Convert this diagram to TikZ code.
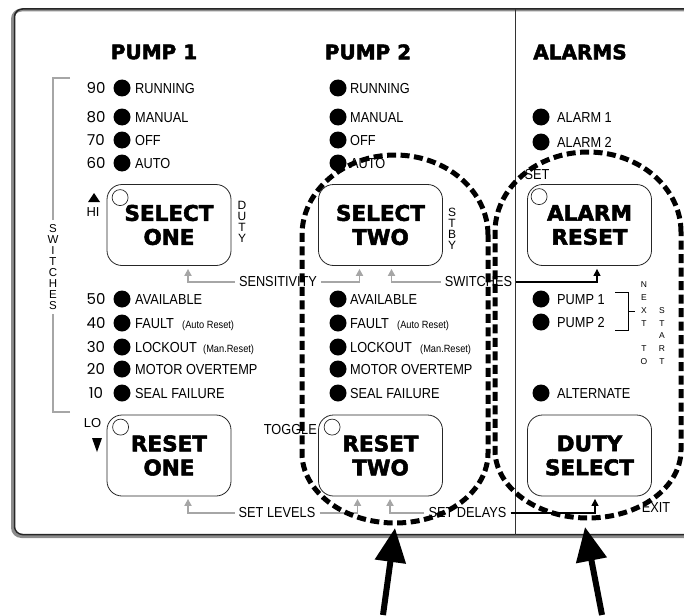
\documentclass[tikz,border=0pt]{standalone}
\usepackage{fontspec}
\setmainfont{Liberation Sans}
\newfontfamily\labf[FakeStretch=0.88]{Liberation Sans}
\newfontfamily\heavyf[FakeBold=2.5]{DejaVu Sans Bold}
\newfontfamily\numf{Poppins}
\usetikzlibrary{arrows.meta}
\begin{document}
\begin{tikzpicture}[x=1pt,y=-1pt,
  lab/.style={font=\labf\fontsize{14.5}{17}\selectfont, inner sep=0pt, anchor=base west},
  lab2/.style={font=\labf\fontsize{14.5}{17}\selectfont, inner xsep=4pt, inner ysep=0pt},
  smalllab/.style={font=\labf\fontsize{10.5}{12}\selectfont, inner sep=0pt, anchor=base west},
  num/.style={font=\numf\fontsize{15}{17}\selectfont, inner sep=0pt, anchor=base},
  dot/.style={circle, fill=black, inner sep=0pt, minimum size=17pt},
  head/.style={font=\heavyf\fontsize{20}{22}\selectfont, inner sep=0pt},
  btn/.style={draw=black!85, line width=0.8pt, rounded corners=15pt, minimum width=124pt,
    minimum height=81pt, align=center, inner sep=0pt, font=\heavyf\fontsize{21.5}{24}\selectfont},
  led/.style={circle, draw=black!85, fill=white, line width=0.7pt, minimum size=16pt, inner sep=0pt},
  side/.style={font=\fontsize{13}{11}\selectfont, inner sep=0pt, align=center},
  vert/.style={font=\fontsize{12}{11}\selectfont, inner sep=0pt, align=center},
  vertsw/.style={font=\fontsize{11.5}{11}\selectfont, inner sep=0pt, align=center},
  tinyv/.style={font=\fontsize{8.5}{12.8}\selectfont, inner sep=0pt, align=center},
  garrow/.style={draw=black!35, line width=1.8pt, -{Triangle[length=7pt,width=7pt]}},
  barrow/.style={draw=black, line width=1.2pt, -{Triangle[length=7pt,width=7pt]}},
  gline/.style={draw=black!35, line width=1.2pt},
  bigdash/.style={draw=black, line width=5pt, dash pattern=on 9pt off 4.5pt},
  bigarrow/.style={draw=black, line width=6pt, -{Triangle[length=34pt,width=30pt]}}
]
\useasboundingbox (0,0) rectangle (684,615);
% frame
\draw[black!45, line width=3pt, rounded corners=9pt] (700,10) -- (12.5,10) -- (12.5,536.5) -- (700,536.5);
\draw[black!85, line width=1.5pt, rounded corners=8pt] (700,9) -- (14.5,9) -- (14.5,534.5) -- (700,534.5);
\draw[black!80, line width=0.9pt] (515,9) -- (515,534.5);

% headings
\node[head] (h1) at (154,52) {PUMP 1};
\node[head] (h2) at (368,52) {PUMP 2};
\node[head] (h3) at (580,52) {ALARMS};

% pump rows
\foreach \n/\y/\t/\nn in {a/88/RUNNING/90, b/117/MANUAL/80, c/140/OFF/70, d/163/AUTO/60,
  e/299/AVAILABLE/50, f/323/FAULT/40, g/347/LOCKOUT/30, h/369/MOTOR OVERTEMP/20, i/393/SEAL FAILURE/10}{
  \node[num] (n1\n) at (96,\y+5.4) {\nn};
  \node[dot] (d1\n) at (122,\y) {};
  \node[lab] (l1\n) at (135,\y+5.2) {\t};
  \node[dot] (d2\n) at (338,\y) {};
  \node[lab] (l2\n) at (350,\y+5.2) {\t};
}
\node[smalllab] (ar1) at (182,328.2) {(Auto Reset)};
\node[smalllab] (mr1) at (203,352.2) {(Man.Reset)};
\node[smalllab] (ar2) at (397,328.2) {(Auto Reset)};
\node[smalllab] (mr2) at (420,352.2) {(Man.Reset)};

% alarm rows
\foreach \n/\y/\t in {a/117/ALARM 1, b/142/ALARM 2, c/299/PUMP 1, d/322/PUMP 2, e/393/ALTERNATE}{
  \node[dot] (d3\n) at (541,\y) {};
  \node[lab] (l3\n) at (557,\y+5.2) {\t};
}

% buttons
\node[btn] (s1) at (169,225) {SELECT\\ONE};
\node[btn] (s2) at (380.5,225) {SELECT\\TWO};
\node[btn] (ar) at (589.5,225) {ALARM\\RESET};
\node[btn] (r1) at (169,455.5) {RESET\\ONE};
\node[btn] (r2) at (380.5,455.5) {RESET\\TWO};
\node[btn] (ds) at (589.5,455.5) {DUTY\\SELECT};
\node[led] (c1) at ([xshift=13.5pt,yshift=-13.5pt]s1.north west) {};
\node[led] (c2) at ([xshift=12pt,yshift=-12.5pt]ar.north west) {};
\node[led] (c3) at ([xshift=14pt,yshift=-12.5pt]r1.north west) {};
\node[led] (c4) at ([xshift=14pt,yshift=-12.5pt]r2.north west) {};

% side labels
\node[side] (hi) at (93,212) {HI};
\fill (88,202) -- (100,202) -- (94,193) -- cycle;
\node[side] (lo) at (92.5,423) {LO};
\fill (92,438) -- (102,438) -- (97,452) -- cycle;
\node[vert] (duty) at (242,221.5) {D\\U\\T\\Y};
\node[vert] (stby) at (452,229) {S\\T\\B\\Y};
\node[lab2] (set) at (537,175) {SET};
\node[lab2] (exit) at (656,507.5) {EXIT};
\node[lab2, anchor=east] (tog) at (321,429.5) {TOGGLE};

% switches bracket
\node[vertsw] (swv) at (53,267) {S\\W\\I\\T\\C\\H\\E\\S};
\coordinate (swt) at (70,78);
\coordinate (swb) at (70,412);
\draw[gline] (swt) -| ([yshift=4pt]swv.north);
\draw[gline] (swb) -| ([yshift=-4pt]swv.south);

% next to start
\node[tinyv] (nxt) at (644,323.5) {N\\E\\X\\T\\~\\T\\O};
\node[tinyv] (strt) at (662,336) {S\\T\\A\\R\\T};
\draw[black, line width=1pt] (615,292) -- (628,292) -- (628,330) -- (615,330);
\draw[black, line width=1pt] (628,311) -- (635,311);

% function arrows
\node[lab2] (sens) at (278,282) {SENSITIVITY};
\draw[garrow] (sens.west) -| ([xshift=19pt,yshift=-3pt]s1.south);
\draw[garrow] (sens.east) -| ([xshift=-21pt,yshift=-3pt]s2.south);
\node[lab2] (swi) at (478.5,282) {SWITCHES};
\draw[garrow] (swi.west) -| ([xshift=11pt,yshift=-3pt]s2.south);
\draw[barrow] (swi.east) -| ([xshift=7.5pt,yshift=-3pt]ar.south);
\node[lab2] (slev) at (277,513) {SET LEVELS};
\draw[garrow] (slev.west) -| ([xshift=19pt,yshift=-2.5pt]r1.south);
\draw[garrow] (slev.east) -| ([xshift=-23pt,yshift=-2.5pt]r2.south);
\node[lab2] (sdel) at (467.5,513) {SET DELAYS};
\draw[garrow] (sdel.west) -| ([xshift=9.5pt,yshift=-2.5pt]r2.south);
\draw[barrow] (sdel.east) -| ([xshift=5.5pt,yshift=-2.5pt]ds.south);

% dashed outlines
\draw[bigdash] (488,235) arc[start angle=0, delta angle=-180, x radius=93, y radius=80]
  -- (302,453) arc[start angle=180, delta angle=-180, x radius=93, y radius=70] -- cycle;
\draw[bigdash] (681,232) arc[start angle=0, delta angle=-180, x radius=93, y radius=80]
  -- (495,450) arc[start angle=180, delta angle=-180, x radius=93, y radius=68] -- cycle;

% big arrows
\coordinate (a1s) at (383,615);
\coordinate (a1t) at (395,528);
\coordinate (a2s) at (602,615);
\coordinate (a2t) at (585,527);
\draw[bigarrow] (a1s) -- (a1t);
\draw[bigarrow] (a2s) -- (a2t);
\end{tikzpicture}
\end{document}
